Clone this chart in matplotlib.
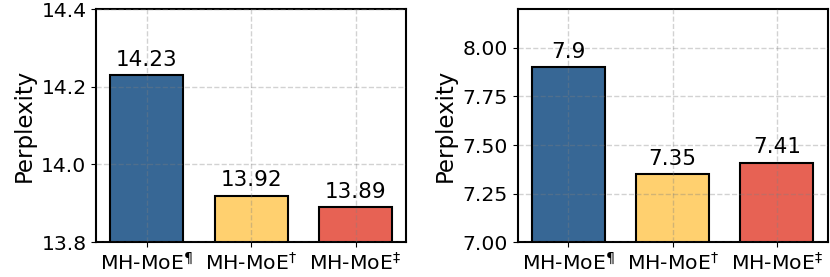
import numpy as np
import matplotlib.pyplot as plt

models = ["MH-MoE$^{\u00b6}$", "MH-MoE$^{\u2020}$", "MH-MoE$^{\u2021}$"]
ppl_left = [14.23, 13.92, 13.89]
ppl_right = [7.9, 7.35, 7.41]
colors = ["#376795", "#FFD06F", "#E76254"]

fig, axes = plt.subplots(1, 2, figsize=(8.3, 2.77), dpi=100)
x = np.arange(len(models))

panels = [
    (axes[0], ppl_left, (13.8, 14.4), [13.8, 14.0, 14.2, 14.4], "{:.1f}"),
    (axes[1], ppl_right, (7.0, 8.2), [7.0, 7.25, 7.5, 7.75, 8.0], "{:.2f}"),
]

for ax, vals, ylim, ticks, fmt in panels:
    ax.bar(x, vals, width=0.7, color=colors, edgecolor="black", linewidth=1.5, zorder=2)
    for xi, v in zip(x, vals):
        ax.annotate(str(v), (xi, v), xytext=(0, 4), textcoords="offset points",
                    ha="center", va="bottom", fontsize=15.5)
    ax.set_ylim(*ylim)
    ax.set_yticks(ticks)
    ax.set_yticklabels([fmt.format(t) for t in ticks])
    ax.set_xticks(x)
    ax.set_xticklabels(models)
    ax.tick_params(labelsize=14.7)
    ax.set_ylabel("Perplexity", fontsize=16.5)
    ax.grid(True, linestyle="--", color="gray", alpha=0.35, linewidth=1.0, zorder=3)
    ax.set_axisbelow(False)
    for s in ax.spines.values():
        s.set_linewidth(1.5)

plt.subplots_adjust(left=0.116, right=0.997, top=0.967, bottom=0.126, wspace=0.36)
plt.savefig("out.png")
